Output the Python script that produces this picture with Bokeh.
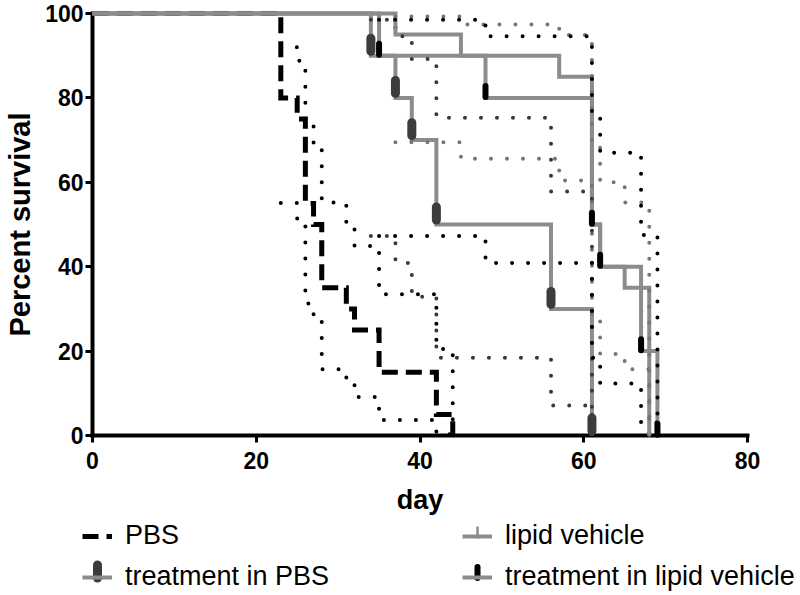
import numpy as np
from bokeh.plotting import figure
from bokeh.layouts import column
from bokeh.models import FixedTicker, Legend, LegendItem
from bokeh.embed import file_html
from bokeh.resources import INLINE

# ---- data ----
x_ticks = [0, 20, 40, 60, 80]
y_ticks = [0, 20, 40, 60, 80, 100]

pbs_day = [0, 23, 25, 26, 27, 28, 31, 32, 35, 42, 44]
pbs_surv = [100, 80, 75, 55, 50, 35, 30, 25, 15, 5, 0]
pbs_upper = [100, 92.0, 88.8, 73.5, 69.2, 55.2, 50.1, 44.9, 33.5, 20.5, 0]
pbs_lower = [100, 55.1, 50.0, 31.3, 27.1, 15.7, 12.2, 9.1, 3.7, 0.3, 0]

lip_day = [0, 37, 45, 57, 61, 62, 65, 68]
lip_surv = [100, 95, 90, 85, 50, 40, 35, 0]
lip_upper = [100, 99.3, 97.4, 94.9, 69.2, 60.0, 55.2, 0]
lip_lower = [100, 69.5, 65.6, 60.4, 27.1, 19.3, 15.7, 0]

tpbs_day = [0, 34, 37, 39, 42, 56, 61]
tpbs_surv = [100, 90, 80, 70, 50, 30, 0]
tpbs_upper = [100, 98.5, 94.6, 89.2, 75.3, 57.8, 0]
tpbs_lower = [100, 47.3, 40.9, 32.9, 18.4, 7.1, 0]

tlip_day = [0, 35, 48, 61, 62, 67, 69]
tlip_surv = [100, 90, 80, 50, 40, 20, 0]
tlip_upper = [100, 98.5, 94.6, 75.3, 67.0, 47.5, 0]
tlip_lower = [100, 47.3, 40.9, 18.4, 12.3, 3.1, 0]

series_labels = ["PBS", "lipid vehicle", "treatment in PBS", "treatment in lipid vehicle"]

FONT = "Liberation Sans"
GRAY = "#8c8c8c"
DARK = "#3c3c3c"
LV = "overlay"

p = figure(width=800, height=520, x_range=(0, 80), y_range=(0, 100),
           output_backend="svg", toolbar_location=None,
           min_border_left=92, min_border_right=53, min_border_top=13,
           min_border_bottom=85)
p.frame_align = False
p.xgrid.visible = False
p.ygrid.visible = False
p.outline_line_color = None

p.xaxis.ticker = FixedTicker(ticks=x_ticks)
p.yaxis.ticker = FixedTicker(ticks=y_ticks)
p.xaxis.axis_label = "day"
p.yaxis.axis_label = "Percent survival"
for ax in [p.xaxis[0], p.yaxis[0]]:
    ax.axis_line_width = 4
    ax.axis_line_color = "black"
    ax.axis_line_cap = "square"
    ax.major_tick_line_width = 3
    ax.major_tick_line_color = "black"
    ax.major_tick_out = 7
    ax.major_tick_in = 0
    ax.minor_tick_line_color = None
    ax.major_label_text_font = FONT
    ax.major_label_text_font_style = "bold"
    ax.major_label_text_font_size = "23px"
    ax.major_label_text_color = "black"
    ax.axis_label_text_font = FONT
    ax.axis_label_text_font_style = "bold"
    ax.axis_label_text_color = "black"
p.xaxis.major_label_standoff = 9
p.yaxis.major_label_standoff = 2
p.xaxis.axis_label_text_font_size = "27px"
p.yaxis.axis_label_text_font_size = "29px"
p.xaxis.axis_label_standoff = 13
p.yaxis.axis_label_standoff = 6


def draw_lines(fig, level):
    pbs = fig.step(pbs_day, pbs_surv, mode="after", line_color="black",
                   line_width=5, line_dash="16 8", line_join="miter", level=level)
    lines = {"pbs": pbs}
    for key, day, surv in [("lip", lip_day, lip_surv), ("tpbs", tpbs_day, tpbs_surv),
                           ("tlip", tlip_day, tlip_surv)]:
        lines[key] = fig.step(day, surv, mode="after", line_color=GRAY, line_width=4,
                              line_join="miter", level=level)
    return lines


def draw_markers(fig, xs_lip, ys_lip, xs_tpbs, ys_tpbs, xs_tlip, ys_tlip, level):
    fig.scatter(xs_lip, ys_lip, marker="dash", angle=np.pi / 2, size=12,
                line_width=2.5, line_color=GRAY, level=level)
    fig.scatter(xs_tpbs, ys_tpbs, marker="dash", angle=np.pi / 2, size=13,
                line_width=9, line_cap="round", line_color=DARK, level=level)
    fig.scatter(xs_tlip, ys_tlip, marker="dash", angle=np.pi / 2, size=11,
                line_width=6, line_cap="round", line_color="black", level=level)


# ---- survival curves ----
draw_lines(p, LV)

# ---- 95% confidence bands (dotted) ----
for day, up, lo, col in [(pbs_day, pbs_upper, pbs_lower, "black"),
                         (lip_day, lip_upper, lip_lower, "#767676"),
                         (tpbs_day, tpbs_upper, tpbs_lower, "#3a3a3a"),
                         (tlip_day, tlip_upper, tlip_lower, "black")]:
    for band in (up, lo):
        p.step(day[1:], band[1:], mode="after", line_color=col, line_width=4,
               line_dash="0 16", line_cap="round", level=LV)

# ---- symbols at each step ----
draw_markers(p, lip_day[1:], [s + 1.4 for s in lip_surv[1:]],
             tpbs_day[1:], [s + 2.6 for s in tpbs_surv[1:]],
             tlip_day[1:], [s + 1.5 for s in tlip_surv[1:]], LV)

# ---- legend strip below the chart (pixel coordinates) ----
leg = figure(width=800, height=75, x_range=(0, 800), y_range=(0, 75),
             output_backend="svg", toolbar_location=None,
             x_axis_location=None, y_axis_location=None, min_border=0)
leg.frame_align = False
leg.xgrid.visible = False
leg.ygrid.visible = False
leg.outline_line_color = None
# line proxies for the legend, placed outside the strip's visible range
proxy = {}
proxy["pbs"] = leg.step([-10, -9], [-10, -10], mode="after", line_color="black",
                        line_width=5, line_dash="16 8")
for key in ("lip", "tpbs", "tlip"):
    proxy[key] = leg.step([-10, -9], [-10, -10], mode="after", line_color=GRAY,
                          line_width=4)
# upright symbols standing on the legend line samples
draw_markers(leg, [477], [63], [97], [24], [477], [23], "overlay")

legend = Legend(
    items=[LegendItem(label=series_labels[0], renderers=[proxy["pbs"]]),
           LegendItem(label=series_labels[1], renderers=[proxy["lip"]]),
           LegendItem(label=series_labels[2], renderers=[proxy["tpbs"]]),
           LegendItem(label=series_labels[3], renderers=[proxy["tlip"]])],
    location=(82, 3), orientation="horizontal", ncols=2,
    glyph_width=30, glyph_height=30, label_height=30, label_width=327,
    label_standoff=13, spacing=10, padding=0, margin=0,
    border_line_color=None, background_fill_alpha=0,
    label_text_font=FONT, label_text_font_size="27px", label_text_color="black")
leg.add_layout(legend, "center")

layout = column(p, leg, spacing=0)
open("out.html", "w").write(file_html(layout, INLINE))
